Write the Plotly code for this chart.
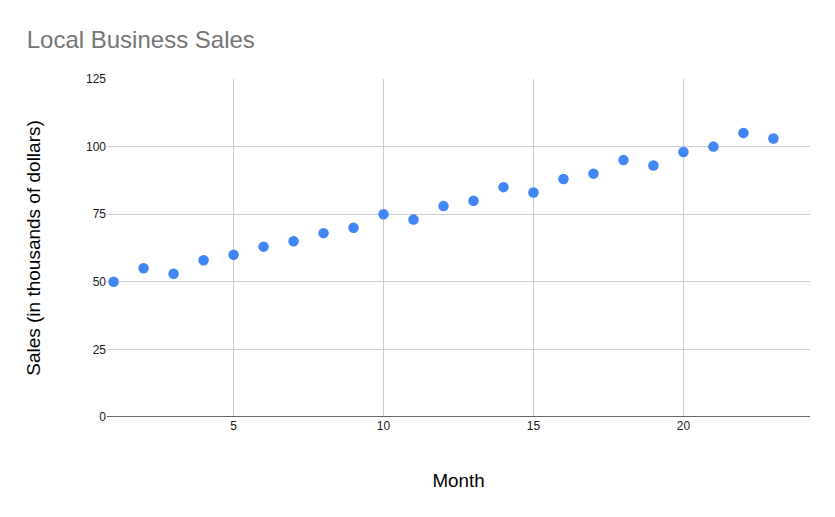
import plotly.graph_objects as go

# Monthly sales data
months = list(range(1, 24))
sales = [50, 55, 53, 58, 60, 63, 65, 68, 70, 75, 73, 78,
         80, 85, 83, 88, 90, 95, 93, 98, 100, 105, 103]

x_ticks = [5, 10, 15, 20]
y_ticks = [0, 25, 50, 75, 100, 125]

fig = go.Figure()

fig.add_trace(go.Scatter(
    x=months,
    y=sales,
    mode='markers',
    marker=dict(color='#4285F4', size=10.5),
    showlegend=False
))

fig.update_layout(
    width=835,
    height=517,
    paper_bgcolor='white',
    plot_bgcolor='white',
    font=dict(family='Liberation Sans, Arial, sans-serif', color='#222222'),
    title=dict(
        text='Local Business Sales',
        x=0.032, xref='container', xanchor='left',
        y=0.924, yref='container', yanchor='middle',
        font=dict(size=24, color='#757575')
    ),
    margin=dict(l=107, r=25, t=79, b=100),
    xaxis=dict(
        title=dict(text='Month', font=dict(size=18.8, color='#000000'), standoff=41),
        range=[0.78, 24.22],
        tickvals=x_ticks,
        ticks='',
        tickfont=dict(size=12, color='#1a1a1a'),
        showgrid=True,
        gridcolor='#cccccc',
        zeroline=False,
        showline=False
    ),
    yaxis=dict(
        title=dict(text='Sales (in thousands of dollars)', font=dict(size=19, color='#000000'), standoff=40),
        range=[0, 125],
        tickvals=y_ticks,
        ticks='',
        tickfont=dict(size=12, color='#1a1a1a'),
        showgrid=True,
        gridcolor='#cccccc',
        zeroline=False,
        showline=False
    ),
    shapes=[dict(
        type='line', xref='paper', yref='y', layer='above',
        x0=0, x1=1, y0=0, y1=0,
        line=dict(color='#333333', width=1.3)
    )]
)

# drop the default page margin so the figure sits at the window corner
fig.write_html("out.html", config=dict(displayModeBar=False),
               post_script="document.body.style.margin='0';")
